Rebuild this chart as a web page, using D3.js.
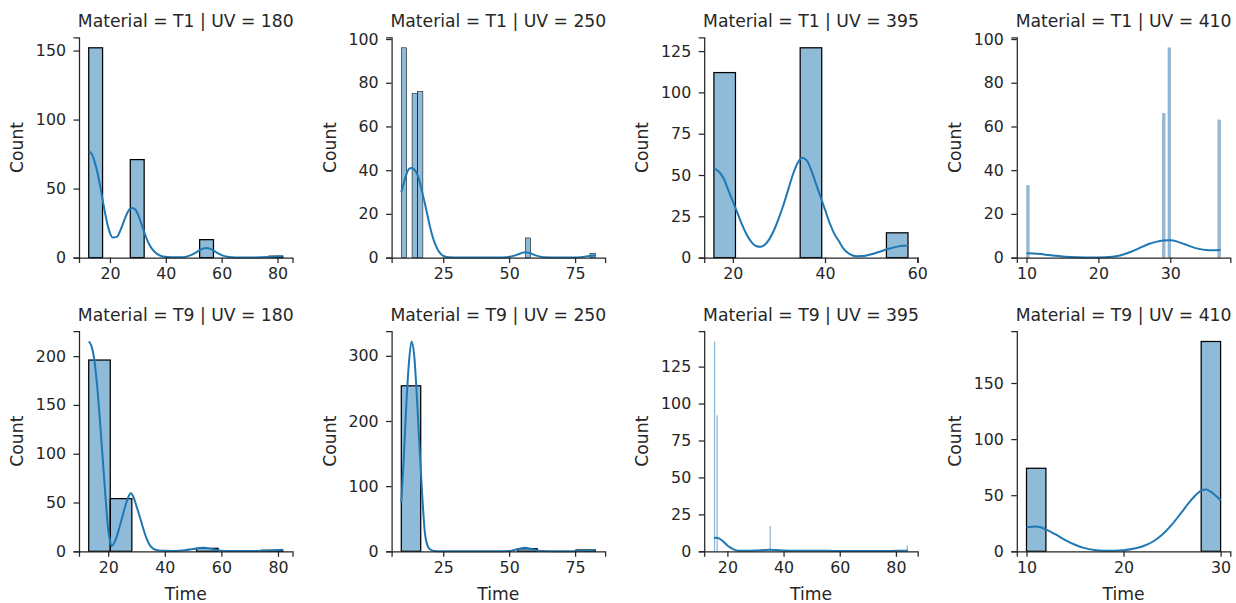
<!DOCTYPE html>
<html><head><meta charset="utf-8">
<script src="https://cdn.jsdelivr.net/npm/d3@7"></script>
<style>
body{margin:0;background:#fff}
text{font-family:"DejaVu Sans",sans-serif;fill:#262626}
</style>
</head><body><svg id="c" width="1236" height="603"></svg>
<script>
// ---------- data ----------
const materials = ["T1", "T9"];
const uvLevels = [180, 250, 395, 410];

// Material T1, UV 180
const t1_180_range = [12.4, 81.9];
const t1_180_nBins = 14;
const t1_180_binIndex = [0, 3, 8, 13];
const t1_180_count = [152, 71, 13, 1];
const t1_180_kde = [[12.4,77],[13.5,75],[15,66],[16.5,52],[18,35],[19.5,21],[21,14.5],[22.5,15],[24,21],[25.5,29],[27,35],[28,36],[29,35],[30.5,29],[32,20],[33.5,12],[35,6.5],[37,2.5],[39,0.8],[42,0.2],[46,0.3],[49,1.8],[51,4],[53,6.3],[54.5,7],[56,6.3],[58,4],[60,1.8],[62,0.6],[65,0.1],[72,0.1],[77,0.4],[80,0.8],[81.9,1]];
const t1_180_xTicks = [20, 40, 60, 80];
const t1_180_yTicks = [0, 50, 100, 150];

// Material T1, UV 250
const t1_250_range = [9.1, 82.7];
const t1_250_nBins = 36;
const t1_250_binIndex = [0, 2, 3, 23, 35];
const t1_250_count = [96, 75, 76, 9, 2];
const t1_250_kde = [[9.1,30],[10,34],[11,38],[12,40.5],[13,41],[14,40.3],[15,38.5],[16,35],[17,30],[18,25],[19,19.5],[20,14],[21,9.5],[22,6],[23,3.5],[24,1.8],[25,0.8],[27,0.2],[32,0],[45,0],[49,0.2],[52,0.9],[54.5,2],[56,2.5],[57.5,2.2],[60,1],[63,0.2],[70,0],[76,0.1],[79,0.5],[81,0.9],[82.7,1]];
const t1_250_xTicks = [25, 50, 75];
const t1_250_yTicks = [0, 20, 40, 60, 80, 100];

// Material T1, UV 395
const t1_395_range = [15.9, 58.0];
const t1_395_nBins = 9;
const t1_395_binIndex = [0, 4, 8];
const t1_395_count = [112, 127, 15];
const t1_395_kde = [[15.9,54],[17,52],[18,48],[19,41],[20,34],[21,27],[22,20],[23,14],[24,9.5],[25,7],[26,6.5],[27,8],[28,11.5],[29,17],[30,24],[31,32],[32,41],[33,50],[34,57],[35,60.5],[36,59],[37,53],[38,45],[39,37],[40,29],[41,21],[42,14.5],[43,10],[44,5.5],[45,2.8],[46,1.3],[47,0.8],[48,0.9],[49,1.3],[50,2],[51,2.8],[52,3.7],[53,4.6],[54,5.5],[55,6.2],[56,6.8],[57,7.1],[58,7.2]];
const t1_395_xTicks = [20, 40, 60];
const t1_395_yTicks = [0, 25, 50, 75, 100, 125];

// Material T1, UV 410
const t1_410_range = [10, 37];
const t1_410_nBins = 70;
const t1_410_binIndex = [0, 49, 51, 69];
const t1_410_count = [33, 66, 96, 63];
const t1_410_kde = [[10,2],[11,1.9],[12,1.6],[13,1.2],[14,0.8],[15,0.5],[16,0.3],[18,0.1],[20,0.1],[22,0.4],[23,1],[24,2],[25,3.3],[26,4.8],[27,6.2],[28,7.2],[29,7.8],[30,7.9],[31,7.3],[32,6.1],[33,4.9],[34,4],[35,3.5],[36,3.4],[37,3.5]];
const t1_410_xTicks = [10, 20, 30];
const t1_410_yTicks = [0, 20, 40, 60, 80, 100];

// Material T9, UV 180
const t9_180_range = [13.1, 81.7];
const t9_180_nBins = 9;
const t9_180_binIndex = [0, 1, 5, 8];
const t9_180_count = [196, 54, 3, 1];
const t9_180_kde = [[13.1,215],[14,211],[15,198],[16,172],[17,137],[18,97],[19,57],[20,22],[20.6,11],[21.2,5.5],[22,8],[23,15],[24,25],[25,35.5],[26,46],[27,55],[28,59.5],[29,55],[30,46],[31,37],[32,27],[33,17.5],[34,10],[35,5],[36,2.5],[37,1.3],[39,0.5],[43,0.4],[47,1],[50,2.3],[52,3.3],[54,3.6],[56,2.8],[58,1.5],[60,0.6],[64,0.2],[70,0.2],[75,0.5],[79,1.1],[81.7,1.5]];
const t9_180_xTicks = [20, 40, 60, 80];
const t9_180_yTicks = [0, 50, 100, 150, 200];

// Material T9, UV 250
const t9_250_range = [9.1, 82.7];
const t9_250_nBins = 10;
const t9_250_binIndex = [0, 6, 9];
const t9_250_count = [254, 4, 2];
const t9_250_kde = [[9.1,75],[10,140],[11,225],[12,290],[13,322],[14,300],[15,238],[16,160],[17,88],[18,30],[19,9],[20,3],[21.5,0.5],[25,0],[45,0],[50,0.5],[53,3],[56,5.5],[59,3],[62,0.5],[70,0],[77,0.4],[80,1.1],[82.7,1.5]];
const t9_250_xTicks = [25, 50, 75];
const t9_250_yTicks = [0, 100, 200, 300];

// Material T9, UV 395
const t9_395_range = [15.2, 84.3];
const t9_395_nBins = 150;
const t9_395_binIndex = [0, 2, 43, 149];
const t9_395_count = [142, 92, 17, 4];
const t9_395_kde = [[15.2,9],[16,9.2],[17,8.8],[18,7.5],[19,5.8],[20,4],[21,2.6],[22,1.5],[23,0.8],[24,0.4],[26,0.3],[30,0.5],[33,0.8],[35,1],[37,0.9],[40,0.6],[45,0.4],[55,0.3],[65,0.2],[75,0.2],[80,0.3],[84.3,0.4]];
const t9_395_xTicks = [20, 40, 60, 80];
const t9_395_yTicks = [0, 25, 50, 75, 100, 125];

// Material T9, UV 410
const t9_410_range = [10, 30];
const t9_410_nBins = 10;
const t9_410_binIndex = [0, 9];
const t9_410_count = [74, 187];
const t9_410_kde = [[10,21.5],[11,22],[12,19.5],[13,15],[14,10],[15,5.8],[16,2.8],[17,1.2],[18,0.6],[19,0.5],[20,0.9],[21,2.2],[22,4.5],[23,8.5],[24,15],[25,24],[26,35],[27,46],[28,54],[28.5,55],[29,53],[30,45.5]];
const t9_410_xTicks = [10, 20, 30];
const t9_410_yTicks = [0, 50, 100, 150];

// table built from the arrays above
const panels = [
  [t1_180_range, t1_180_nBins, t1_180_binIndex, t1_180_count, t1_180_kde, t1_180_xTicks, t1_180_yTicks],
  [t1_250_range, t1_250_nBins, t1_250_binIndex, t1_250_count, t1_250_kde, t1_250_xTicks, t1_250_yTicks],
  [t1_395_range, t1_395_nBins, t1_395_binIndex, t1_395_count, t1_395_kde, t1_395_xTicks, t1_395_yTicks],
  [t1_410_range, t1_410_nBins, t1_410_binIndex, t1_410_count, t1_410_kde, t1_410_xTicks, t1_410_yTicks],
  [t9_180_range, t9_180_nBins, t9_180_binIndex, t9_180_count, t9_180_kde, t9_180_xTicks, t9_180_yTicks],
  [t9_250_range, t9_250_nBins, t9_250_binIndex, t9_250_count, t9_250_kde, t9_250_xTicks, t9_250_yTicks],
  [t9_395_range, t9_395_nBins, t9_395_binIndex, t9_395_count, t9_395_kde, t9_395_xTicks, t9_395_yTicks],
  [t9_410_range, t9_410_nBins, t9_410_binIndex, t9_410_count, t9_410_kde, t9_410_xTicks, t9_410_yTicks]
].map((p, i) => ({
  material: materials[Math.floor(i / 4)], uv: uvLevels[i % 4],
  range: p[0], nBins: p[1], binIndex: p[2], count: p[3], kde: p[4], xTicks: p[5], yTicks: p[6]
}));

// ---------- layout ----------
const W = 213.5, H = 220.3;
const colLeft = c => 79 + c * 312.6;
const rowTop = [37.3, 331];
const blue = "#1f77b4";
const tickFont = 15.8, labelFont = 17.2;

const svg = d3.select("#c");
svg.append("rect").attr("width", 1236).attr("height", 603).attr("fill", "#fff");

panels.forEach((p, i) => {
  const row = Math.floor(i / 4), col = i % 4;
  const g = svg.append("g").attr("transform", `translate(${colLeft(col)},${rowTop[row]})`);
  const [lo, hi] = p.range;
  const r = hi - lo;
  const x = d3.scaleLinear().domain([lo - 0.05 * r, hi + 0.05 * r]).range([0, W]);
  const ymax = Math.max(d3.max(p.count), d3.max(p.kde, d => d[1])) * 1.05;
  const y = d3.scaleLinear().domain([0, ymax]).range([H, 0]);
  const bw = r / p.nBins;

  const bars = p.binIndex.map((b, k) => ({x0: lo + b * bw, x1: lo + (b + 1) * bw, c: p.count[k]}));
  const barPx = x(lo + bw) - x(lo);
  const edgeW = Math.min(1.25, 0.1 * barPx);
  const edgeOpacity = barPx < 2 ? 0 : (barPx < 4 ? 0.4 : 1);
  g.selectAll("rect.bar").data(bars).join("rect").attr("class", "bar")
    .attr("x", d => x(d.x0)).attr("width", d => x(d.x1) - x(d.x0))
    .attr("y", d => y(d.c)).attr("height", d => y(0) - y(d.c))
    .attr("fill", blue).attr("fill-opacity", 0.5)
    .attr("stroke", "#000").attr("stroke-opacity", edgeOpacity).attr("stroke-width", edgeW);

  const line = d3.line().x(d => x(d[0])).y(d => y(d[1])).curve(d3.curveMonotoneX);
  g.append("path").datum(p.kde).attr("d", line)
    .attr("fill", "none").attr("stroke", blue).attr("stroke-width", 2);

  const xa = g.append("g").attr("transform", `translate(0,${H})`)
    .call(d3.axisBottom(x).tickValues(p.xTicks).tickFormat(d3.format("d")).tickSizeOuter(0).tickSize(5.5).tickPadding(5));
  const ya = g.append("g")
    .call(d3.axisLeft(y).tickValues(p.yTicks).tickFormat(d3.format("d")).tickSizeOuter(0).tickSize(5.5).tickPadding(7.5));
  [xa, ya].forEach(a => {
    a.select(".domain").attr("stroke", "#262626").attr("stroke-width", 1.25);
    a.selectAll(".tick line").attr("stroke", "#262626").attr("stroke-width", 1.25);
    a.selectAll(".tick text").attr("fill", "#262626").style("font-size", tickFont + "px").style("font-family", "DejaVu Sans");
  });

  g.append("text").attr("x", W / 2).attr("y", -10).attr("text-anchor", "middle")
    .style("font-size", labelFont + "px").text(`Material = ${p.material} | UV = ${p.uv}`);
  g.append("text").attr("transform", `translate(-56,${H / 2}) rotate(-90)`).attr("text-anchor", "middle")
    .style("font-size", labelFont + "px").text("Count");
  if (row === 1) {
    g.append("text").attr("x", W / 2).attr("y", H + 49).attr("text-anchor", "middle")
      .style("font-size", labelFont + "px").text("Time");
  }
});
</script>
</body></html>
